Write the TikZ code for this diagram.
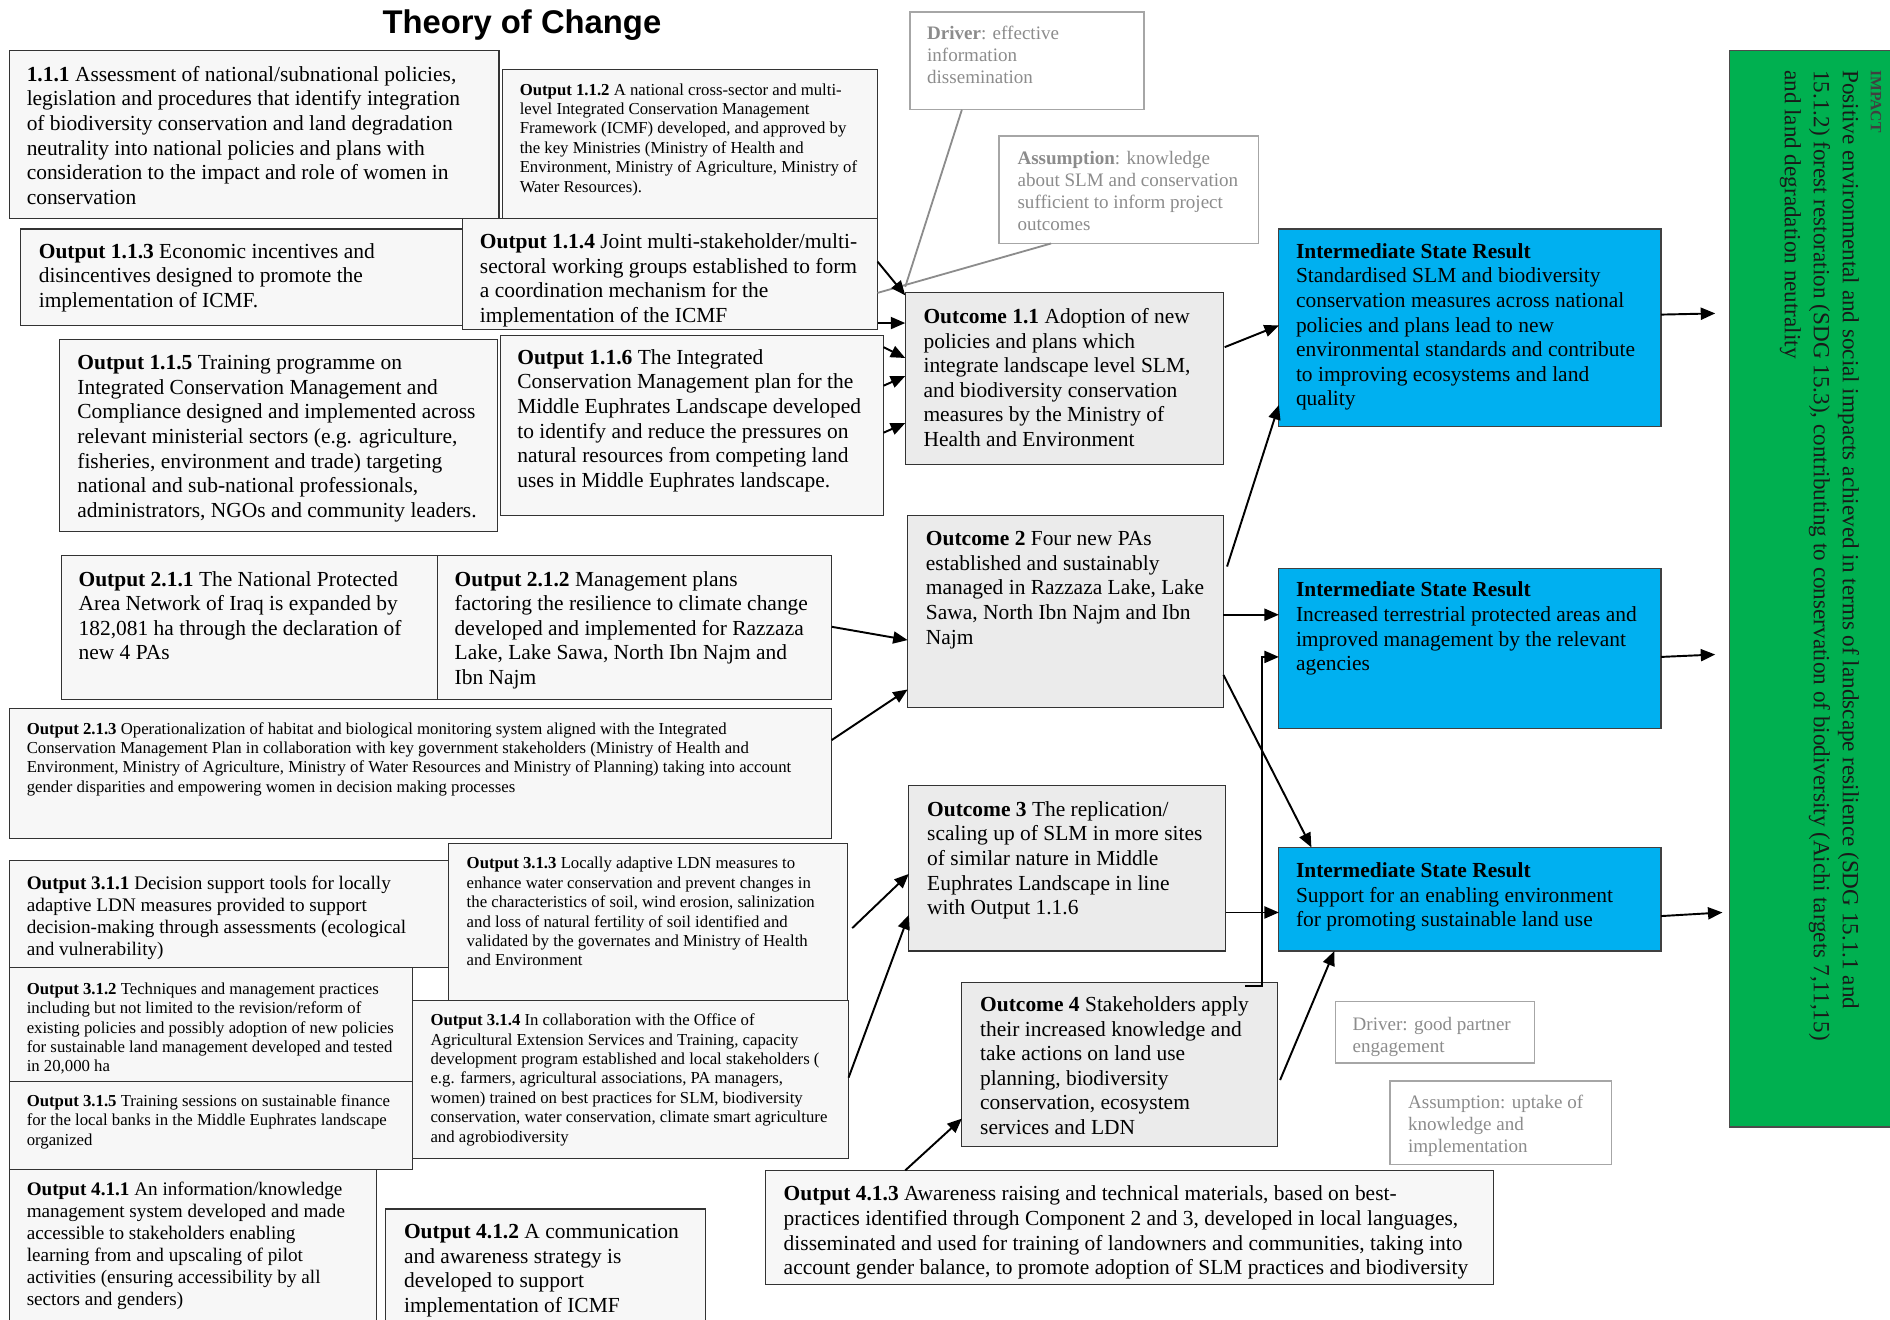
\documentclass[tikz,border=0pt]{standalone}
\usepackage{fontspec}
\setmainfont{Liberation Serif}
\newfontfamily\titlesans{Liberation Sans}
\usetikzlibrary{arrows.meta,calc}
\definecolor{ofill}{HTML}{F7F7F7}
\definecolor{cfill}{HTML}{EBEBEB}
\definecolor{isrblue}{HTML}{00B0F0}
\definecolor{impgreen}{HTML}{00B050}
\definecolor{drvtext}{HTML}{8C8C8C}
\definecolor{drvline}{HTML}{A6A6A6}
\newcommand{\myfL}{\fontsize{17.8}{20.4}\selectfont}
\newcommand{\myfM}{\fontsize{15.9}{18.3}\selectfont}
\newcommand{\myfS}{\fontsize{13.9}{16.1}\selectfont}
\newcommand{\myfD}{\fontsize{15.8}{18.2}\selectfont}
\tikzset{
  obox/.style={draw=black!80, fill=ofill, line width=0.9pt, inner sep=0pt, outer sep=0pt, anchor=north west},
  cbox/.style={obox, fill=cfill},
  ibox/.style={obox, fill=isrblue, draw=black!75},
  gbox/.style={obox, fill=impgreen, draw=black!70},
  dbox/.style={obox, fill=white, draw=drvline, line width=1.3pt},
  txt/.style={anchor=north west, inner sep=0pt, align=left},
  tL/.style={txt, font=\myfL},
  tM/.style={txt, font=\myfM},
  tS/.style={txt, font=\myfS},
  tD/.style={txt, font=\myfD, text=drvtext},
  arr/.style={-{Triangle[length=12pt,width=10pt]}, line width=1.6pt, black},
  gline/.style={line width=1.5pt, draw=drvtext},
}
\begin{document}
\begin{tikzpicture}[x=1pt,y=-1pt]
\useasboundingbox (0,0) rectangle (1568,1095);
\clip (0,0) rectangle (1568,1095);
\fill[white] (0,0) rectangle (1568,1095);

% title
\node[anchor=center, inner sep=0pt, font=\titlesans\bfseries\fontsize{27.2}{31}\selectfont] (title) at (433,21) {Theory of Change};

% ---------- Component 1 outputs
\node[obox, minimum width=406pt, minimum height=139pt] (b111) at (8,42) {};
\node[tL] (t111) at (22,54.7) {\textbf{1.1.1} Assessment of national/subnational policies,\\legislation and procedures that identify integration\\of biodiversity conservation and land degradation\\neutrality into national policies and plans with\\consideration to the impact and role of women in\\conservation};

\node[obox, minimum width=311pt, minimum height=123pt] (b112) at (417,58) {};
\node[tS] (t112) at (431,69) {\textbf{Output 1.1.2} A national cross-sector and multi-\\level Integrated Conservation Management\\Framework (ICMF) developed, and approved by\\the key Ministries (Ministry of Health and\\Environment, Ministry of Agriculture, Ministry of\\Water Resources).};

\node[obox, minimum width=400pt, minimum height=80pt] (b113) at (17,190) {};
\node[tL] (t113) at (32,201.7) {\textbf{Output 1.1.3} Economic incentives and\\disincentives designed to promote the\\implementation of ICMF.};

\node[obox, minimum width=344pt, minimum height=92pt] (b114) at (384,181) {};
\node[tL] (t114) at (398,193.7) {\textbf{Output 1.1.4} Joint multi-stakeholder/multi-\\sectoral working groups established to form\\a coordination mechanism for the\\implementation of the ICMF};

\node[obox, minimum width=364pt, minimum height=159pt] (b115) at (49,282) {};
\node[tL] (t115) at (64,294.7) {\textbf{Output 1.1.5} Training programme on\\Integrated Conservation Management and\\Compliance designed and implemented across\\relevant ministerial sectors (e.g. agriculture,\\fisheries, environment and trade) targeting\\national and sub-national professionals,\\administrators, NGOs and community leaders.};

\node[obox, minimum width=318pt, minimum height=150pt] (b116) at (415,278) {};
\node[tL] (t116) at (429,289.7) {\textbf{Output 1.1.6} The Integrated\\Conservation Management plan for the\\Middle Euphrates Landscape developed\\to identify and reduce the pressures on\\natural resources from competing land\\uses in Middle Euphrates landscape.};

% ---------- Component 2 outputs
\node[obox, minimum width=312pt, minimum height=119pt] (b211) at (51,461) {};
\node[tL] (t211) at (65,473.7) {\textbf{Output 2.1.1} The National Protected\\Area Network of Iraq is expanded by\\182,081 ha through the declaration of\\new 4 PAs};
\node[obox, minimum width=327pt, minimum height=119pt] (b212) at (363,461) {};
\node[tL] (t212) at (377,473.7) {\textbf{Output 2.1.2} Management plans\\factoring the resilience to climate change\\developed and implemented for Razzaza\\Lake, Lake Sawa, North Ibn Najm and\\Ibn Najm};

\node[obox, minimum width=682pt, minimum height=108pt] (b213) at (8,588) {};
\node[tS] (t213) at (22,599) {\textbf{Output 2.1.3} Operationalization of habitat and biological monitoring system aligned with the Integrated\\Conservation Management Plan in collaboration with key government stakeholders (Ministry of Health and\\Environment, Ministry of Agriculture, Ministry of Water Resources and Ministry of Planning) taking into account\\gender disparities and empowering women in decision making processes};

% ---------- Component 3 outputs
\node[obox, minimum width=365pt, minimum height=89pt] (b311) at (8,714) {};
\node[tM] (t311) at (22,726.4) {\textbf{Output 3.1.1} Decision support tools for locally\\adaptive LDN measures provided to support\\decision-making through assessments (ecological\\and vulnerability)};

\node[obox, minimum width=331pt, minimum height=140pt] (b313) at (372,700) {};
\node[tS] (t313) at (387,711) {\textbf{Output 3.1.3} Locally adaptive LDN measures to\\enhance water conservation and prevent changes in\\the characteristics of soil, wind erosion, salinization\\and loss of natural fertility of soil identified and\\validated by the governates and Ministry of Health\\and Environment};

\node[obox, minimum width=334pt, minimum height=94pt] (b312) at (8,803) {};
\node[tS] (t312) at (22,815) {\textbf{Output 3.1.2} Techniques and management practices\\including but not limited to the revision/reform of\\existing policies and possibly adoption of new policies\\for sustainable land management developed and tested\\in 20,000 ha};

\node[obox, minimum width=334pt, minimum height=73pt] (b315) at (8,897) {};
\node[tS] (t315) at (22,908) {\textbf{Output 3.1.5} Training sessions on sustainable finance\\for the local banks in the Middle Euphrates landscape\\organized};

\node[obox, minimum width=362pt, minimum height=131pt] (b314) at (342,830) {};
\node[tS] (t314) at (357,841) {\textbf{Output 3.1.4} In collaboration with the Office of\\Agricultural Extension Services and Training, capacity\\development program established and local stakeholders (\\e.g. farmers, agricultural associations, PA managers,\\women) trained on best practices for SLM, biodiversity\\conservation, water conservation, climate smart agriculture\\and agrobiodiversity};

% ---------- Component 4 outputs
\node[obox, minimum width=304pt, minimum height=140pt] (b411) at (8,970) {};
\node[tM] (t411) at (22,980.4) {\textbf{Output 4.1.1} An information/knowledge\\management system developed and made\\accessible to stakeholders enabling\\learning from and upscaling of pilot\\activities (ensuring accessibility by all\\sectors and genders)};

\node[obox, minimum width=265pt, minimum height=107pt] (b412) at (320,1003) {};
\node[tL] (t412) at (335,1015.7) {\textbf{Output 4.1.2} A communication\\and awareness strategy is\\developed to support\\implementation of ICMF};

\node[obox, minimum width=604pt, minimum height=95pt] (b413) at (635,971) {};
\node[tL] (t413) at (650,983.7) {\textbf{Output 4.1.3} Awareness raising and technical materials, based on best-\\practices identified through Component 2 and 3, developed in local languages,\\disseminated and used for training of landowners and communities, taking into\\account gender balance, to promote adoption of SLM practices and biodiversity};

% ---------- drivers / assumptions
\node[dbox, minimum width=194pt, minimum height=81pt] (d1) at (755,10) {};
\node[tD] (td1) at (769,21.5) {\textbf{Driver}: effective\\information\\dissemination};
\node[dbox, minimum width=215pt, minimum height=89pt] (a1) at (829,113) {};
\node[tD] (ta1) at (844,125.5) {\textbf{Assumption}: knowledge\\about SLM and conservation\\sufficient to inform project\\outcomes};
\node[dbox, minimum width=165pt, minimum height=51pt] (d2) at (1108,831) {};
\node[tD] (td2) at (1122,843.5) {Driver: good partner\\engagement};
\node[dbox, minimum width=184pt, minimum height=69pt] (a2) at (1153,897) {};
\node[tD] (ta2) at (1168,908.5) {Assumption: uptake of\\knowledge and\\implementation};

% ---------- outcomes
\node[cbox, minimum width=264pt, minimum height=142pt] (o11) at (751,243) {};
\node[tL] (to11) at (766,255.7) {\textbf{Outcome 1.1} Adoption of new\\policies and plans which\\integrate landscape level SLM,\\and biodiversity conservation\\measures by the Ministry of\\Health and Environment};
\node[cbox, minimum width=262pt, minimum height=159pt] (o2) at (753,428) {};
\node[tL] (to2) at (768,440.7) {\textbf{Outcome 2} Four new PAs\\established and sustainably\\managed in Razzaza Lake, Lake\\Sawa, North Ibn Najm and Ibn\\Najm};
\node[cbox, minimum width=263pt, minimum height=137pt] (o3) at (754,652) {};
\node[tL] (to3) at (769,664.7) {\textbf{Outcome 3} The replication/\\scaling up of SLM in more sites\\of similar nature in Middle\\Euphrates Landscape in line\\with Output 1.1.6};
\node[cbox, minimum width=262pt, minimum height=136pt] (o4) at (798,815) {};
\node[tL] (to4) at (813,826.7) {\textbf{Outcome 4} Stakeholders apply\\their increased knowledge and\\take actions on land use\\planning, biodiversity\\conservation, ecosystem\\services and LDN};

% ---------- intermediate state results
\node[ibox, minimum width=317pt, minimum height=164pt] (i1) at (1061,190) {};
\node[tL] (ti1) at (1075,201.7) {\textbf{Intermediate State Result}\\Standardised SLM and biodiversity\\conservation measures across national\\policies and plans lead to new\\environmental standards and contribute\\to improving ecosystems and land\\quality};
\node[ibox, minimum width=317pt, minimum height=132pt] (i2) at (1061,472) {};
\node[tL] (ti2) at (1075,482.7) {\textbf{Intermediate State Result}\\Increased terrestrial protected areas and\\improved management by the relevant\\agencies};
\node[ibox, minimum width=317pt, minimum height=86pt] (i3) at (1061,703) {};
\node[tL] (ti3) at (1075,715.7) {\textbf{Intermediate State Result}\\Support for an enabling environment\\for promoting sustainable land use};

% ---------- impact
\node[gbox, minimum width=160pt, minimum height=893pt] (imp) at (1435,42) {};
\node[txt, rotate=-90, font=\fontsize{13}{15}\selectfont\bfseries, text=black!75] (timp) at (1561,58) {IMPACT};
\node[txt, rotate=-90, font=\fontsize{19.2}{24}\selectfont, text=black!90] (timpb) at (1542.5,58) {Positive environmental and social impacts achieved in terms of landscape resilience (SDG 15.1.1 and\\15.1.2) forest restoration (SDG 15.3), contributing to conservation of biodiversity (Aichi targets 7,11,15)\\and land degradation neutrality};

% ---------- driver/assumption lines
\draw[gline] ([xshift=43pt]d1.south west) -- (o11.north west |- 0,238);
\draw[gline] ([xshift=43pt]a1.south west) -- (b114.east |- 0,243);

% ---------- arrows into outcome 1.1
\draw[arr] (b114.east |- 0,217) -- (o11.north west |- 0,245);
\draw[arr] (b114.east |- 0,268) -- (o11.west |- 0,268);
\draw[arr] (b116.east |- 0,288) -- (o11.west |- 0,297);
\draw[arr] (b116.east |- 0,320) -- (o11.west |- 0,312);
\draw[arr] (b116.east |- 0,359) -- (o11.west |- 0,351);

% ---------- arrows into outcome 2 and 3 and 4
\draw[arr] (b212.east |- 0,520) -- (o2.west |- 0,531);
\draw[arr] (b213.east |- 0,614) -- (o2.west |- 0,572);
\draw[arr] ([xshift=4pt]b313.east |- 0,770) -- (o3.west |- 0,725);
\draw[arr] (b314.east |- 0,894) -- (o3.west |- 0,759);
\draw[arr] ([xshift=116pt]b413.north west) -- (o4.west |- 0,928);

% ---------- outcomes to intermediate results
\draw[arr] ([xshift=1pt]o11.east |- 0,288) -- (i1.west |- 0,270);
\draw[arr] ([xshift=3pt]o2.east |- 0,470) -- (i1.west |- 0,336);
\draw[arr] (o2.east |- 0,510) -- (i2.west |- 0,510);
\draw[arr] (o2.east |- 0,560) -- ([xshift=27pt]i3.north west);
\draw[arr] (o3.east |- 0,757) -- (i3.west |- 0,757);
\draw[arr] ([shift={(-27pt,-3pt)}]o4.north east) -- ++(14,0) |- (i2.west |- 0,545);
\draw[arr] ([xshift=2pt]o4.east |- 0,896) -- ([xshift=46pt]i3.south west);

% ---------- intermediate results to impact
\draw[arr] (i1.east |- 0,261) -- ([xshift=-12pt]imp.west |- 0,260);
\draw[arr] (i2.east |- 0,545) -- ([xshift=-12pt]imp.west |- 0,543);
\draw[arr] (i3.east |- 0,760) -- ([xshift=-6pt]imp.west |- 0,757);
\end{tikzpicture}
\end{document}
